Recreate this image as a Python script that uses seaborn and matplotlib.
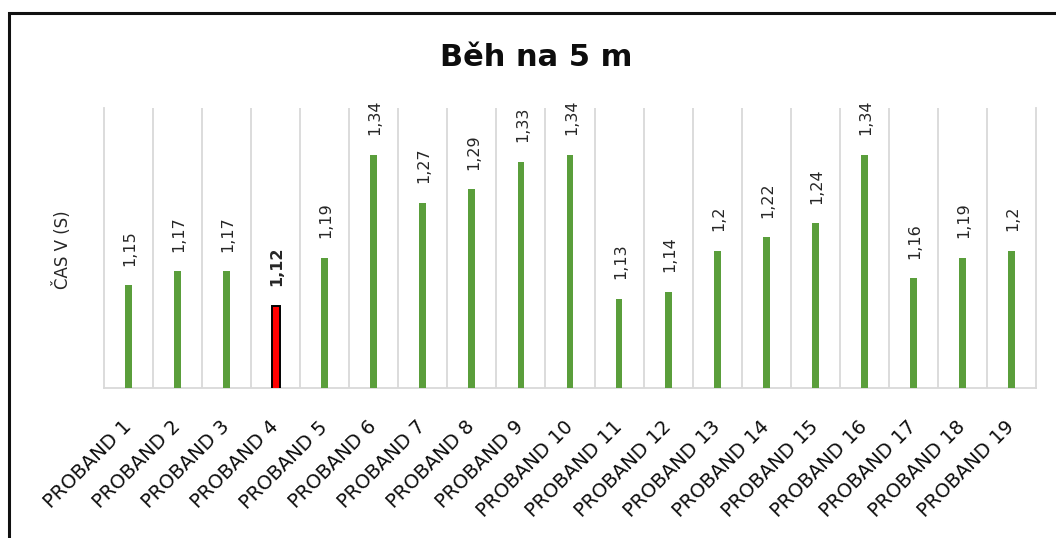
import matplotlib
matplotlib.use("Agg")
import matplotlib.pyplot as plt
from matplotlib.patches import Rectangle
from matplotlib.ticker import FixedLocator
import seaborn as sns
import pandas as pd

# Data
probands = [f"PROBAND {i}" for i in range(1, 20)]
times = [1.15, 1.17, 1.17, 1.12, 1.19, 1.34, 1.27, 1.29, 1.33, 1.34,
         1.13, 1.14, 1.20, 1.22, 1.24, 1.34, 1.16, 1.19, 1.20]
highlight = "PROBAND 4"

title = "Běh na 5 m"
ylabel = "ČAS V (S)"

GREEN = "#5A9E3B"
RED = "#FF0000"
GRID = "#D9D9D9"

sns.set_theme(style="white")
plt.rcParams["font.family"] = ["DejaVu Sans"]

df = pd.DataFrame({"proband": probands, "time": times})
palette = {p: (RED if p == highlight else GREEN) for p in probands}

W, H = 1056, 538
fig = plt.figure(figsize=(W / 100, H / 100), dpi=100)
ax = fig.add_axes([104 / W, (H - 388) / H, 932 / W, 280 / H])

sns.barplot(data=df, x="proband", y="time", hue="proband", palette=palette,
            legend=False, width=0.14, saturation=1, ax=ax, zorder=3)

# keep bars slim and centred; outline the highlighted one
for patch in ax.patches:
    cx = patch.get_x() + patch.get_width() / 2
    w = 0.14
    patch.set_linewidth(0)
    if round(cx) == probands.index(highlight):
        w = 0.17
        patch.set_edgecolor("black")
        patch.set_linewidth(1.4)
    patch.set_width(w)
    patch.set_x(cx - w / 2)

ax.set_ylim(1.0, 1.408)
ax.set_xlim(-0.5, len(probands) - 0.5)

# value labels above each bar
for i, (p, v) in enumerate(zip(probands, times)):
    txt = f"{v:g}".replace(".", ",")
    ax.annotate(txt, xy=(i, v), xytext=(1, 14), textcoords="offset points",
                rotation=90, ha="center", va="bottom", fontsize=11.5,
                color="#262626",
                fontweight="bold" if p == highlight else "normal",
                annotation_clip=False)

# vertical separators between categories
ax.xaxis.set_minor_locator(FixedLocator([i + 0.5 for i in range(len(probands) - 1)]))
ax.grid(which="minor", axis="x", color=GRID, linewidth=1.3, zorder=0)
ax.grid(which="major", visible=False)
ax.tick_params(axis="x", which="both", length=0)
ax.tick_params(axis="x", which="major", pad=26)

for side in ["left", "right", "bottom"]:
    ax.spines[side].set_visible(True)
    ax.spines[side].set_color(GRID)
    ax.spines[side].set_linewidth(1.3)
ax.spines["top"].set_visible(False)

ax.set_yticks([])
ax.set_xlabel("")
ax.set_ylabel("")
ax.set_xticks(range(len(probands)))
ax.set_xticklabels(probands, rotation=45, ha="right", va="center",
                   rotation_mode="anchor", fontsize=14, color="#0d0d0d")

fig.text(63 / W, 1 - 250 / H, ylabel, rotation=90, ha="center", va="center",
         fontsize=12, color="#262626")
fig.text(536 / W, 1 - 58 / H, title, ha="center", va="center",
         fontsize=22, fontweight="bold", color="#0d0d0d")

# chart frame
fig.patches.append(Rectangle((9 / W, -0.05), 1.2, 1 - 13 / H + 0.05,
                             transform=fig.transFigure, fill=False,
                             edgecolor="#111111", linewidth=2.2))

fig.savefig("out.png", dpi=100, facecolor="white")
